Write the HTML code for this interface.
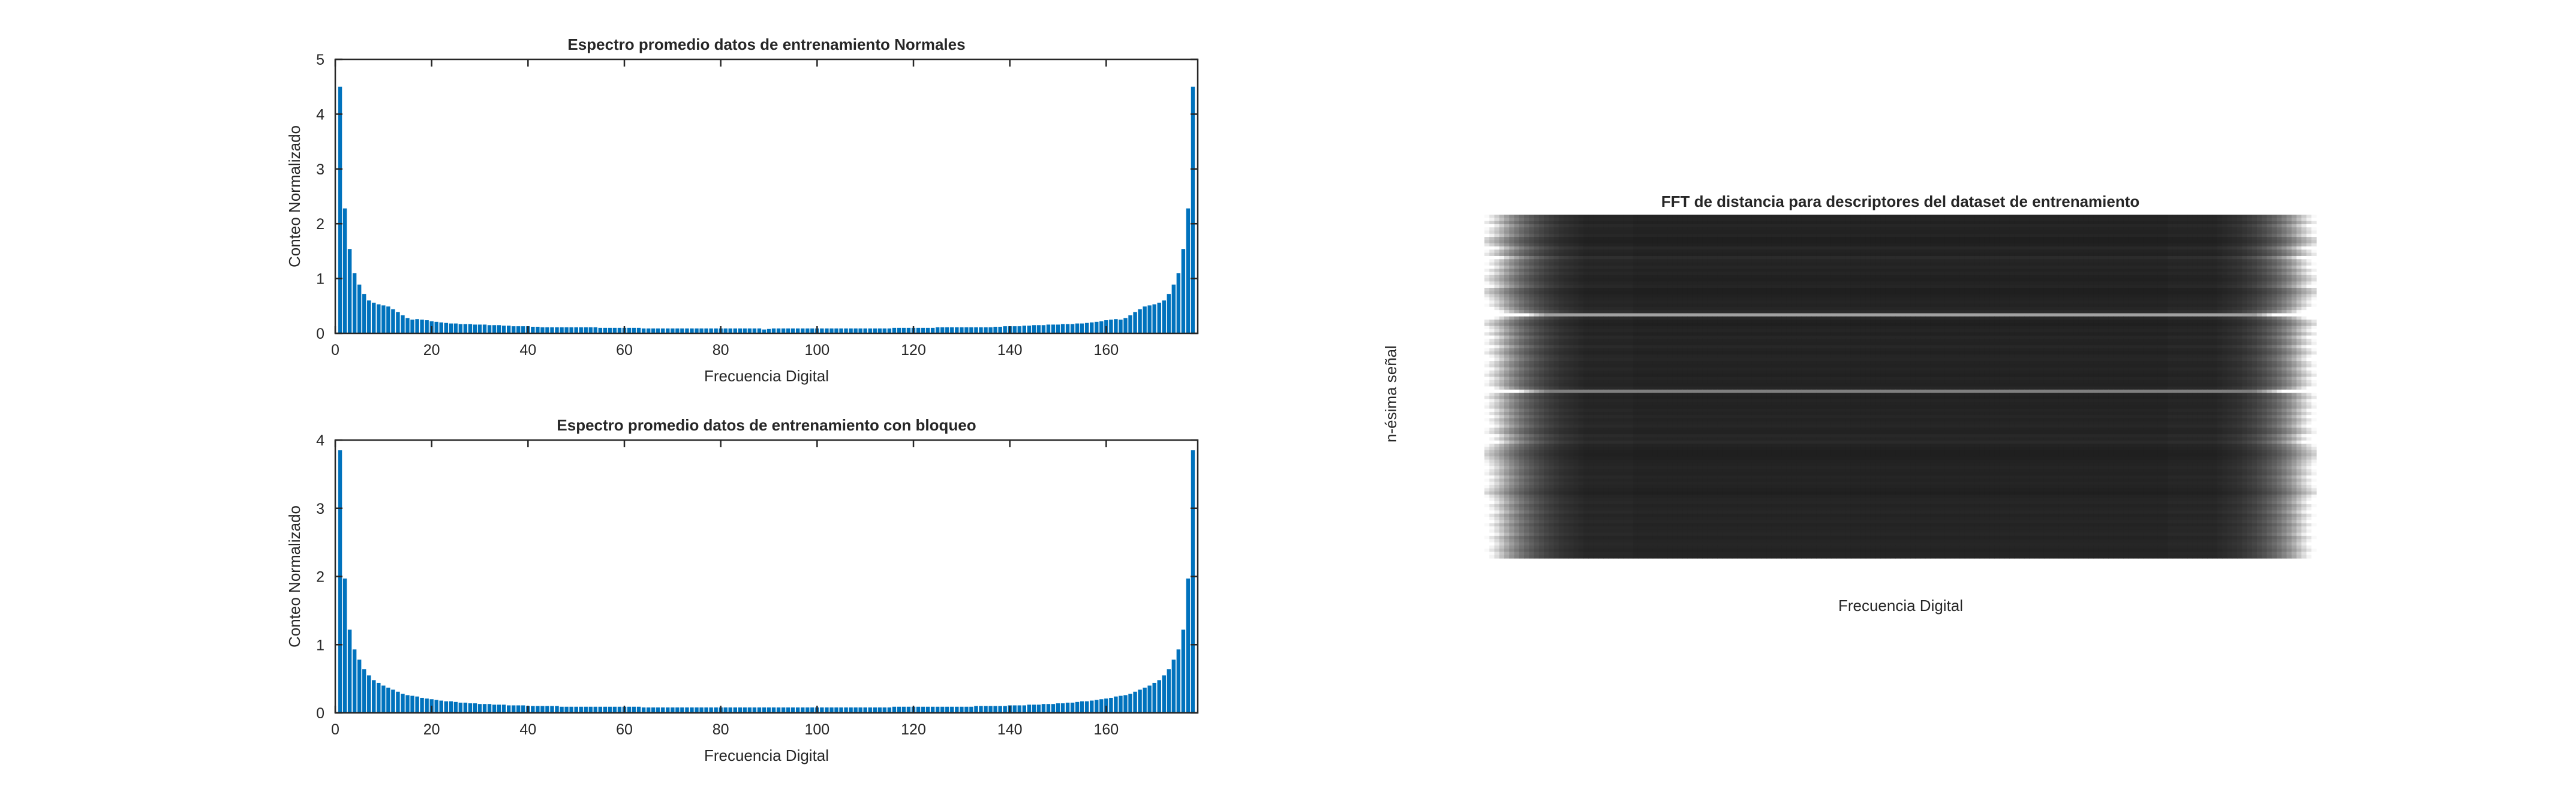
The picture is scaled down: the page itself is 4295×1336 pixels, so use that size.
<!DOCTYPE html>
<html><head><meta charset="utf-8"><title>Espectro</title>
<style>html,body{margin:0;padding:0;background:#fff}svg{display:block}text{font-family:"Liberation Sans",sans-serif;fill:#262626}</style>
</head><body>
<svg id="fig" width="4295" height="1336" viewBox="0 0 4295 1336" xmlns="http://www.w3.org/2000/svg">
<rect width="4295" height="1336" fill="#fff"/>
<g id="p1"></g>
<g id="p2"></g>
<g id="p3"></g>
</svg>
<script>
const xTicks=[0,20,40,60,80,100,120,140,160];
const yTicks1=[0,1,2,3,4,5];
const yTicks2=[0,1,2,3,4];
const normalValues=[4.5,2.28,1.54,1.1,0.89,0.72,0.6,0.56,0.53,0.51,0.49,0.44,0.39,0.33,0.28,0.25,0.26,0.25,0.24,0.22,0.21,0.2,0.19,0.18,0.18,0.17,0.17,0.17,0.16,0.16,
0.16,0.15,0.15,0.15,0.14,0.14,0.13,0.13,0.13,0.13,0.12,0.12,0.11,0.11,0.11,0.11,0.11,0.11,0.11,0.11,0.11,0.11,0.11,0.11,0.1,0.1,0.1,0.1,0.1,0.1,
0.1,0.1,0.1,0.09,0.09,0.09,0.09,0.09,0.09,0.09,0.09,0.09,0.09,0.09,0.09,0.09,0.09,0.09,0.09,0.09,0.09,0.09,0.09,0.09,0.09,0.09,0.09,0.09,0.07,
0.08,0.09,0.09,0.09,0.09,0.09,0.09,0.09,0.09,0.09,0.09,0.09,0.09,0.09,0.09,0.09,0.09,0.09,0.09,0.09,0.09,0.09,0.09,0.09,0.09,0.09,
0.1,0.1,0.1,0.1,0.1,0.1,0.1,0.1,0.1,0.11,0.11,0.11,0.11,0.11,0.11,0.11,0.11,0.11,0.11,0.11,0.11,0.12,0.12,0.13,0.13,0.13,0.13,0.14,0.14,0.15,0.15,0.15,0.16,
0.16,0.16,0.17,0.17,0.17,0.18,0.18,0.19,0.2,0.21,0.22,0.24,0.25,0.26,0.25,0.28,0.33,0.39,0.44,0.49,0.51,0.53,0.56,0.6,0.72,0.89,1.1,1.54,2.28,4.5];
const blockedValues=[3.85,1.97,1.22,0.93,0.78,0.64,0.55,0.48,0.44,0.4,0.37,0.34,0.31,0.28,0.26,0.25,0.24,0.22,0.21,0.2,0.19,0.18,0.17,0.17,0.16,0.15,0.15,0.14,0.14,0.13,
0.13,0.13,0.12,0.12,0.12,0.11,0.11,0.11,0.11,0.1,0.1,0.1,0.1,0.1,0.1,0.1,0.09,0.09,0.09,0.09,0.09,0.09,0.09,0.09,0.09,0.09,0.09,0.09,0.09,0.09,
0.09,0.09,0.09,0.08,0.08,0.08,0.08,0.08,0.08,0.08,0.08,0.08,0.08,0.08,0.08,0.08,0.08,0.08,0.08,0.08,0.08,0.08,0.08,0.08,0.08,0.08,0.08,0.08,0.08,
0.08,0.08,0.08,0.08,0.08,0.08,0.08,0.08,0.08,0.08,0.08,0.08,0.08,0.08,0.08,0.08,0.08,0.08,0.08,0.08,0.08,0.08,0.08,0.08,0.08,0.08,
0.09,0.09,0.09,0.09,0.09,0.09,0.09,0.09,0.09,0.09,0.09,0.09,0.09,0.09,0.09,0.09,0.09,0.1,0.1,0.1,0.1,0.1,0.1,0.1,0.11,0.11,0.11,0.11,0.12,0.12,0.12,0.13,0.13,
0.13,0.14,0.14,0.15,0.15,0.16,0.17,0.17,0.18,0.19,0.2,0.21,0.22,0.24,0.25,0.26,0.28,0.31,0.34,0.37,0.4,0.44,0.48,0.55,0.64,0.78,0.93,1.22,1.97,3.85];
const heatColProfile=[0.95,0.85,0.75,0.65,0.55,0.47,0.4,0.34,0.29,0.25,0.21,0.18,0.15,0.13,0.11,0.09,0.08,0.07,0.06,0.05,
0.04,0.04,0.04,0.04,0.04,0.04,0.04,0.04,0.04,0.04,0.03,0.03,0.03,0.03,0.03,0.03,0.03,0.03,0.03,0.03,0.03,0.03,0.03,0.03,0.03,0.03,0.03,0.03,0.03,0.03,
0.03,0.03,0.03,0.03,0.03,0.03,0.03,0.03,0.03,0.03,0.03,0.03,0.03,0.03,0.03,0.03,0.03,0.03,0.03,0.03,0.03,0.03,0.03,0.03,0.03,0.03,0.03,0.03,0.03,0.03,
0.03,0.03,0.03,0.03,0.03,0.03,0.03,0.03,0.03,0.03,0.03,0.03,0.03,0.03,0.03,0.03,0.03,0.03,0.03,0.03,0.03,0.03,0.03,0.03,0.03,0.03,0.03,0.03,0.03,0.03,
0.03,0.03,0.03,0.03,0.03,0.03,0.03,0.03,0.03,0.03,0.03,0.03,0.03,0.03,0.03,0.03,0.03,0.03,0.03,0.03,0.03,0.03,0.03,0.03,0.03,0.03,0.03,0.03,0.04,0.04,
0.04,0.04,0.04,0.04,0.04,0.04,0.04,0.04,
0.05,0.06,0.07,0.08,0.09,0.11,0.13,0.15,0.18,0.21,0.25,0.29,0.34,0.4,0.47,0.55,0.65,0.75,0.85,0.95];
const heatRowLevel=[0.1,0.12,0.08,0.14,0.1,0.09,0.12,0.06,0.05,0.08,0.16,0.1,0.08,0.2,0.12,0.1,0.14,0.09,0.12,0.08,0.07,0.1,0.13,0.06,0.05,0.08,0.1,0.12,0.1,0.14,
0.2,0.6,0.15,0.08,0.06,0.1,0.12,0.08,0.14,0.1,0.09,0.15,0.1,0.08,0.12,0.14,0.1,0.09,0.13,0.1,0.08,0.12,0.1,0.09,0.14,0.45,0.1,0.08,0.12,0.1,
0.09,0.13,0.1,0.14,0.1,0.12,0.15,0.1,0.09,0.16,0.12,0.18,0.1,0.08,0.06,0.05,0.07,0.09,0.1,0.12,0.1,0.09,0.13,0.1,0.12,0.1,0.08,0.06,0.1,0.12,
0.14,0.1,0.12,0.15,0.1,0.12,0.14,0.1,0.13,0.12,0.15,0.1,0.12,0.14,0.12,0.1,0.13,0.12];
const NS='http://www.w3.org/2000/svg';
function mk(parent,tag,attrs,txt){const e=document.createElementNS(NS,tag);for(const k in attrs)e.setAttribute(k,attrs[k]);if(txt!==undefined)e.textContent=txt;parent.appendChild(e);return e;}
function barChart(g,values,yTicks,yMax,top,bottom,title){
  const L=559,R=1997,xMax=179;
  const sx=v=>L+(v/xMax)*(R-L);
  const sy=v=>bottom-(v/yMax)*(bottom-top);
  const bw=(R-L)/xMax*0.8;
  values.forEach((v,i)=>{
    const b=mk(g,'rect',{x:sx(i+1)-bw/2,y:sy(v),width:bw,height:bottom-sy(v),fill:'#0072bd'});
    
    
  });
  const frame=mk(g,'rect',{x:L,y:top,width:R-L,height:bottom-top,fill:'none',stroke:'#262626','stroke-width':2.5});
  
  
  xTicks.forEach(t=>{
    mk(g,'line',{x1:sx(t),x2:sx(t),y1:bottom,y2:bottom-12,stroke:'#262626','stroke-width':2.5});
    mk(g,'line',{x1:sx(t),x2:sx(t),y1:top,y2:top+12,stroke:'#262626','stroke-width':2.5});
    const l=mk(g,'text',{x:sx(t),y:bottom+36,'font-size':25,'text-anchor':'middle'},String(t));
    
    
  });
  yTicks.forEach(t=>{
    mk(g,'line',{x1:L,x2:L+12,y1:sy(t),y2:sy(t),stroke:'#262626','stroke-width':2.5});
    mk(g,'line',{x1:R,x2:R-12,y1:sy(t),y2:sy(t),stroke:'#262626','stroke-width':2.5});
    const l=mk(g,'text',{x:L-18,y:sy(t)+9,'font-size':25,'text-anchor':'end'},String(t));
    
    
  });
  const tt=mk(g,'text',{x:(L+R)/2,y:top-16,'font-size':26,'font-weight':'bold','text-anchor':'middle',fill:'#000'},title);
  
  
  const xl=mk(g,'text',{x:(L+R)/2,y:bottom+80,'font-size':26,'text-anchor':'middle'},'Frecuencia Digital');
  
  
  const cy=(top+bottom)/2;
  const yl=mk(g,'text',{x:500,y:cy,'font-size':26,'text-anchor':'middle',transform:'rotate(-90 500 '+cy+')'},'Conteo Normalizado');
  
  
}
barChart(document.getElementById('p1'),normalValues,yTicks1,5,99,556,'Espectro promedio datos de entrenamiento Normales');
barChart(document.getElementById('p2'),blockedValues,yTicks2,4,734,1189,'Espectro promedio datos de entrenamiento con bloqueo');
(function(){
  const g=document.getElementById('p3');
  const L=2475,R=3862,T=358,B=931;
  const nc=heatColProfile.length,nr=heatRowLevel.length;
  const cw=(R-L)/nc,ch=(B-T)/nr;
  heatRowLevel.forEach((rv,r)=>{
    heatColProfile.forEach((cv,c)=>{
      let v=cv*(0.6+3*rv)+rv*(0.25+cv);
      if(rv>0.4&&c>3&&c<nc-4)v=Math.max(v,rv);
      v=Math.min(1,v);
      const gr=Math.round(22+v*233);
      const cell=mk(g,'rect',{x:L+c*cw,y:T+r*ch,width:cw+0.6,height:ch+0.6,fill:'rgb('+gr+','+gr+','+gr+')'});
      
      
    });
  });
  const tt=mk(g,'text',{x:(L+R)/2,y:345,'font-size':26,'font-weight':'bold','text-anchor':'middle',fill:'#000'},'FFT de distancia para descriptores del dataset de entrenamiento');
  
  
  const xl=mk(g,'text',{x:3169,y:1019,'font-size':26,'text-anchor':'middle'},'Frecuencia Digital');
  
  
  const yl=mk(g,'text',{x:2328,y:657,'font-size':26,'text-anchor':'middle',transform:'rotate(-90 2328 657)'},'n-ésima señal');
  
  
})();
</script>
</body></html>
